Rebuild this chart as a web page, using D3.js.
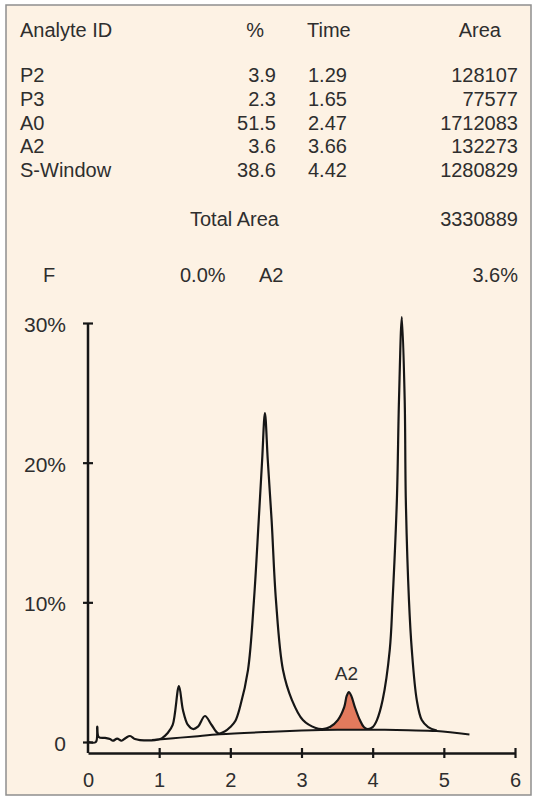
<!DOCTYPE html>
<html>
<head>
<meta charset="utf-8">
<script src="https://cdn.jsdelivr.net/npm/d3@7"></script>
<style>
  html, body { margin: 0; padding: 0; background: #ffffff; }
  svg { display: block; }
  text { font-family: "Liberation Sans", Arial, Helvetica, sans-serif; }
</style>
</head>
<body>
<svg id="chart" width="536" height="800"></svg>
<script>
// ---- Result table ----
const analyteIds = ["P2", "P3", "A0", "A2", "S-Window"];
const analytePercents = ["3.9", "2.3", "51.5", "3.6", "38.6"];
const analyteTimes = ["1.29", "1.65", "2.47", "3.66", "4.42"];
const analyteAreas = [128107, 77577, 1712083, 132273, 1280829];
const totalArea = 3330889;
const fValue = "0.0%";
const a2Value = "3.6%";

// ---- Chromatogram trace (time in min, signal in %) ----
const traceTime = [
  0, 0.11, 0.13, 0.15, 0.24, 0.31, 0.35, 0.41, 0.47, 0.53, 0.59, 0.66, 0.73, 0.94,
  1.035, 1.12, 1.19, 1.278, 1.334, 1.404, 1.475, 1.545, 1.643, 1.737, 1.83, 1.92,
  2.0, 2.07, 2.136, 2.248, 2.332, 2.399, 2.447, 2.486, 2.526, 2.58, 2.641, 2.74,
  2.866, 3.02, 3.2, 3.3, 3.40, 3.51, 3.60, 3.635, 3.666, 3.70, 3.75, 3.82, 3.876,
  3.93, 4.0, 4.06, 4.14, 4.24, 4.28, 4.34, 4.37, 4.41, 4.45, 4.466, 4.51, 4.55,
  4.62, 4.69, 4.78, 4.9
];
const traceValue = [
  0, 0, 1.10, 0.36, 0.29, 0.21, 0.09, 0.24, 0.09, 0.29, 0.43, 0.21, 0.14, 0.14,
  0.26, 0.64, 1.22, 4.01, 2.29, 1.22, 0.93, 1.10, 1.86, 1.22, 0.62, 0.75,
  1.07, 1.5, 2.5, 5.15, 10.16, 15.89, 20.19, 23.55, 20.19, 15.89, 10.16, 5.15,
  3.0, 1.57, 1.0, 0.93, 1.07, 1.57, 2.5, 3.3, 3.58, 3.3, 2.5, 1.57, 1.07,
  0.93, 1.07, 1.57, 3.0, 6.59, 10.16, 17.3, 24.5, 30.42, 24.5, 17.3, 10.16, 6.59,
  3.0, 1.57, 1.07, 0.82
];

// ---- Integration baseline ----
const baseTime = [0.9, 1.2, 1.5, 1.85, 2.5, 3.0, 3.5, 4.0, 4.5, 4.9, 5.36];
const baseValue = [0.14, 0.27, 0.4, 0.55, 0.72, 0.82, 0.88, 0.88, 0.84, 0.78, 0.53];

// ---- A2 integration window ----
const a2Window = [3.40, 3.93];
const a2Label = "A2";

// ---- Axis ticks ----
const xTicks = [0, 1, 2, 3, 4, 5, 6];
const yTicks = [0, 10, 20, 30];

const svg = d3.select("#chart");
const ink = "#161616";
const textColor = "#2e2e2e";
const smooth = d3.curveCatmullRom.alpha(0.5);

// panel
svg.append("rect")
  .attr("x", 6).attr("y", 5).attr("width", 525).attr("height", 790)
  .attr("fill", "#fdf2e4").attr("stroke", "#8e8e8e").attr("stroke-width", 1.5);

// table
const tbl = svg.append("g").attr("font-size", 20).attr("fill", textColor);
tbl.append("text").attr("x", 20).attr("y", 37).text("Analyte ID");
tbl.append("text").attr("x", 264).attr("y", 37).attr("text-anchor", "end").text("%");
tbl.append("text").attr("x", 307).attr("y", 37).text("Time");
tbl.append("text").attr("x", 501).attr("y", 37).attr("text-anchor", "end").text("Area");

const rowY = d3.scaleLinear().domain([0, 1]).range([82, 105.75]);
analyteIds.forEach((id, i) => {
  const yy = rowY(i);
  tbl.append("text").attr("x", 20).attr("y", yy).text(id);
  tbl.append("text").attr("x", 276).attr("y", yy).attr("text-anchor", "end").text(analytePercents[i]);
  tbl.append("text").attr("x", 308).attr("y", yy).text(analyteTimes[i]);
  tbl.append("text").attr("x", 518).attr("y", yy).attr("text-anchor", "end").text(analyteAreas[i]);
});
tbl.append("text").attr("x", 190).attr("y", 226).text("Total Area");
tbl.append("text").attr("x", 518).attr("y", 226).attr("text-anchor", "end").text(totalArea);

tbl.append("text").attr("x", 43).attr("y", 282).text("F");
tbl.append("text").attr("x", 180).attr("y", 282).text(fValue);
tbl.append("text").attr("x", 259).attr("y", 282).text("A2");
tbl.append("text").attr("x", 518).attr("y", 282).attr("text-anchor", "end").text(a2Value);

// scales
const x = d3.scaleLinear().domain([0, 6]).range([88, 515]);
const y = d3.scaleLinear().domain([0, 30]).range([742, 323]);
const axisY = 753;

const trace = traceTime.map((t, i) => ({ t, v: traceValue[i] }));
const base = baseTime.map((t, i) => ({ t, v: baseValue[i] }));
const baseAt = d3.scaleLinear().domain(baseTime).range(baseValue).clamp(true);

// A2 filled peak
const a2Pts = trace.filter(d => d.t >= a2Window[0] && d.t <= a2Window[1]);
const fillArea = d3.area()
  .x(d => x(d.t))
  .y0(d => y(baseAt(d.t)))
  .y1(d => y(d.v))
  .curve(smooth);
svg.append("path").datum(a2Pts)
  .attr("d", fillArea)
  .attr("fill", "#e27a5d");

// baseline
const line = d3.line().x(d => x(d.t)).y(d => y(d.v)).curve(smooth);
svg.append("path").datum(base)
  .attr("d", line)
  .attr("fill", "none").attr("stroke", ink).attr("stroke-width", 2);

// trace
svg.append("path").datum(trace)
  .attr("d", line)
  .attr("fill", "none").attr("stroke", ink).attr("stroke-width", 2.2)
  .attr("stroke-linejoin", "round");

// peak label
svg.append("text")
  .attr("x", x(3.66) - 2).attr("y", 680)
  .attr("text-anchor", "middle").attr("font-size", 19).attr("fill", textColor)
  .text(a2Label);

// y axis
const yAxis = svg.append("g").attr("transform", `translate(${x(0)},0)`)
  .call(d3.axisLeft(y).tickValues(yTicks).tickSize(5).tickSizeOuter(0)
    .tickFormat(d => d === 0 ? "0" : d + "%"));
yAxis.select(".domain").remove();
yAxis.selectAll(".tick line").attr("x1", 5).attr("stroke", ink).attr("stroke-width", 2.2);
yAxis.selectAll(".tick text")
  .attr("x", -22).attr("dy", "0.4em")
  .attr("font-size", 21).attr("fill", textColor)
  .style("font-family", '"Liberation Sans", Arial, sans-serif');
svg.append("line")
  .attr("x1", x(0)).attr("x2", x(0)).attr("y1", y(30)).attr("y2", axisY)
  .attr("stroke", ink).attr("stroke-width", 2.5);

// x axis
const xAxis = svg.append("g").attr("transform", `translate(0,${axisY})`)
  .call(d3.axisBottom(x).tickValues(xTicks).tickSize(5).tickSizeOuter(0)
    .tickFormat(d3.format("d")));
xAxis.select(".domain").attr("stroke", ink).attr("stroke-width", 2.5);
xAxis.selectAll(".tick line")
  .attr("y1", -5).attr("stroke", ink).attr("stroke-width", 2.2)
  .attr("display", d => d === 0 ? "none" : null);
xAxis.selectAll(".tick text")
  .attr("y", 34).attr("dy", 0)
  .attr("font-size", 20).attr("fill", textColor)
  .style("font-family", '"Liberation Sans", Arial, sans-serif');
</script>
</body>
</html>
